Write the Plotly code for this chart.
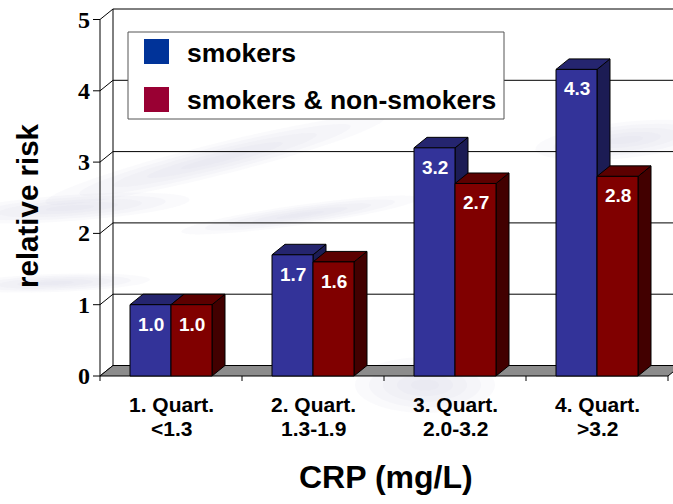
import math
import plotly.graph_objects as go

# ---------------- data ----------------
categories = ["1. Quart.", "2. Quart.", "3. Quart.", "4. Quart."]
crp_ranges = ["<1.3", "1.3-1.9", "2.0-3.2", ">3.2"]
smokers = [1.0, 1.7, 3.2, 4.3]
all_subjects = [1.0, 1.6, 2.7, 2.8]
series_names = ["smokers", "smokers & non-smokers"]
y_ticks = [0, 1, 2, 3, 4, 5]
x_title = "CRP (mg/L)"
y_title = "relative risk"

# ---------------- geometry / style ----------------
W, H = 673, 504
L, R, T, B = 92, 0, 6, 121
PW, PH = W - L - R, H - T - B
PX_CAT = 142.0
PX_UNIT = 71.3
X0 = -0.5 - 8 / PX_CAT
X1 = X0 + PW / PX_CAT
Y0 = -7 / PX_UNIT
Y1 = Y0 + PH / PX_UNIT
DX = 13 / PX_CAT      # depth offset (x)
DY = 10.5 / PX_UNIT   # depth offset (y)
BARGAP = 1 - 2 * 41 / PX_CAT
BW = (1 - BARGAP) / 2

FONT = "Liberation Sans, Arial, sans-serif"
SERIF = "Liberation Serif, Times New Roman, serif"
blue = dict(front="#333399", side="#1c1c54", top="#25256f", legend="#003399")
red = dict(front="#800000", side="#420000", top="#5c0000", legend="#990033")
FLOOR = "#8c8c8c"


def px2paper_x(px):
    return (px - L) / PW


def px2paper_y(py):
    return (H - B - py) / PH


def line(xa, ya, xb, yb, width=1, color="black"):
    return dict(type="line", xref="x", yref="y", x0=xa, y0=ya, x1=xb, y1=yb,
                layer="below", line=dict(color=color, width=width))


def poly(points, fill, outline="black"):
    path = "M " + " L ".join(f"{x},{y}" for x, y in points) + " Z"
    return dict(type="path", xref="x", yref="y", path=path, layer="below",
                fillcolor=fill, line=dict(color=outline, width=1))


shapes = []


# faint background swooshes (decoration of the slide)
def ellipse_px(cx, cy, rx, ry, ang_deg, opacity, color="#d2d2e4"):
    a = math.radians(ang_deg)
    pts = []
    for k in range(48):
        t = 2 * math.pi * k / 48
        ex, ey = rx * math.cos(t), ry * math.sin(t)
        px = cx + ex * math.cos(a) - ey * math.sin(a)
        py = cy + ex * math.sin(a) + ey * math.cos(a)
        pts.append((px2paper_x(px), px2paper_y(py)))
    path = "M " + " L ".join(f"{x:.4f},{y:.4f}" for x, y in pts) + " Z"
    return dict(type="path", xref="paper", yref="paper", path=path, layer="below",
                fillcolor=color, opacity=opacity, line=dict(width=0))


swooshes = [
    (215, 160, 175, 16, -14),
    (70, 208, 120, 13, -4),
    (55, 283, 95, 9, -2),
    (300, 215, 120, 10, -8),
    (625, 140, 90, 18, -6),
    (425, 385, 70, 28, 0),
]
for cx, cy, rx, ry, ang in swooshes:
    for s in (1.0, 0.8, 0.6, 0.4, 0.2):
        shapes.append(ellipse_px(cx, cy, rx * s, ry * s, ang, 0.12))

# back wall gridlines + top edge
for k in y_ticks[1:]:
    shapes.append(line(-0.5 + DX, k + DY, 3.5 + DX + 0.5, k + DY))
# back wall left edge and front axis
shapes.append(line(-0.5 + DX, DY, -0.5 + DX, y_ticks[-1] + DY))
shapes.append(line(-0.5, 0, -0.5, y_ticks[-1]))
# side-wall diagonals and y ticks
for k in y_ticks:
    shapes.append(line(-0.5, k, -0.5 + DX, k + DY))
    shapes.append(line(-0.5 - 7 / PX_CAT, k, -0.5, k))
# floor
n = len(categories)
shapes.append(poly([(-0.5, 0), (n - 0.5, 0), (n - 0.5 + DX, DY), (-0.5 + DX, DY)], FLOOR))
# x ticks
for i in range(n + 1):
    shapes.append(line(i - 0.5, 0, i - 0.5, -5 / PX_UNIT))

# 3D faces for bars
for i in range(n):
    for vals, col, off in ((smokers, blue, -1), (all_subjects, red, 0)):
        v = vals[i]
        a = i + off * BW
        b = a + BW
        shapes.append(poly([(b, 0), (b, v), (b + DX, v + DY), (b + DX, DY)], col["side"]))
        shapes.append(poly([(a, v), (b, v), (b + DX, v + DY), (a + DX, v + DY)], col["top"]))


# legend box (above)
def rect_px(x0, y0, x1, y1, fill, outline=None):
    return dict(type="rect", xref="paper", yref="paper", layer="above",
                x0=px2paper_x(x0), x1=px2paper_x(x1), y0=px2paper_y(y1), y1=px2paper_y(y0),
                fillcolor=fill,
                line=dict(color=outline if outline else fill, width=1 if outline else 0))


shapes.append(rect_px(128, 32, 504, 119, "white", "#555555"))
shapes.append(rect_px(144, 39, 169, 64, blue["legend"]))
shapes.append(rect_px(144, 87, 169, 112, red["legend"]))

fig = go.Figure()
x_idx = list(range(n))
fig.add_trace(go.Bar(x=x_idx, y=smokers, name=series_names[0],
                     marker=dict(color=blue["front"], line=dict(color="black", width=1))))
fig.add_trace(go.Bar(x=x_idx, y=all_subjects, name=series_names[1],
                     marker=dict(color=red["front"], line=dict(color="black", width=1))))

ann = []
# value labels
for vals, off in ((smokers, -0.5), (all_subjects, 0.5)):
    for i, v in enumerate(vals):
        ann.append(dict(x=i + off * BW, y=v, xref="x", yref="y", text=f"<b>{v:.1f}</b>",
                        showarrow=False, xanchor="center", yanchor="top", yshift=-7,
                        font=dict(family=FONT, size=19, color="white")))
# category labels
for i in range(n):
    ann.append(dict(x=i, y=px2paper_y(404.5), xref="x", yref="paper", text=f"<b>{categories[i]}</b>",
                    showarrow=False, xanchor="center", yanchor="middle",
                    font=dict(family=FONT, size=21, color="black")))
    rng = crp_ranges[i].replace("<", "&lt;").replace(">", "&gt;")
    ann.append(dict(x=i, y=px2paper_y(428.5), xref="x", yref="paper", text=f"<b>{rng}</b>",
                    showarrow=False, xanchor="center", yanchor="middle",
                    font=dict(family=FONT, size=21, color="black")))
# y tick labels
for k in y_ticks:
    ann.append(dict(x=0, y=k, xref="paper", yref="y", text=f"<b>{k}</b>", showarrow=False,
                    xanchor="right", yanchor="middle", xshift=0,
                    font=dict(family=SERIF, size=24, color="black")))
# titles
ann.append(dict(x=px2paper_x(386), y=px2paper_y(477), xref="paper", yref="paper", text=f"<b>{x_title}</b>",
                showarrow=False, xanchor="center", yanchor="middle",
                font=dict(family=FONT, size=32, color="black")))
ann.append(dict(x=px2paper_x(27), y=px2paper_y(206), xref="paper", yref="paper", text=f"<b>{y_title}</b>",
                showarrow=False, xanchor="center", yanchor="middle", textangle=-90,
                font=dict(family=FONT, size=29.5, color="black")))
# legend texts
ann.append(dict(x=px2paper_x(185), y=px2paper_y(53), xref="paper", yref="paper", text=f"<b>{series_names[0]}</b>",
                showarrow=False, xanchor="left", yanchor="middle", font=dict(family=FONT, size=26.5, color="black")))
ann.append(dict(x=px2paper_x(185), y=px2paper_y(100), xref="paper", yref="paper", text=f"<b>{series_names[1]}</b>",
                showarrow=False, xanchor="left", yanchor="middle", font=dict(family=FONT, size=26.5, color="black")))

fig.update_layout(
    width=W, height=H,
    margin=dict(l=L, r=R, t=T, b=B, pad=0),
    barmode="group", bargap=BARGAP, bargroupgap=0,
    showlegend=False,
    paper_bgcolor="white", plot_bgcolor="rgba(0,0,0,0)",
    xaxis=dict(range=[X0, X1], visible=False, fixedrange=True),
    yaxis=dict(range=[Y0, Y1], visible=False, fixedrange=True),
    shapes=shapes, annotations=ann,
)
fig.write_html("out.html", config={"displayModeBar": False},
               post_script="document.body.style.margin='0';")
